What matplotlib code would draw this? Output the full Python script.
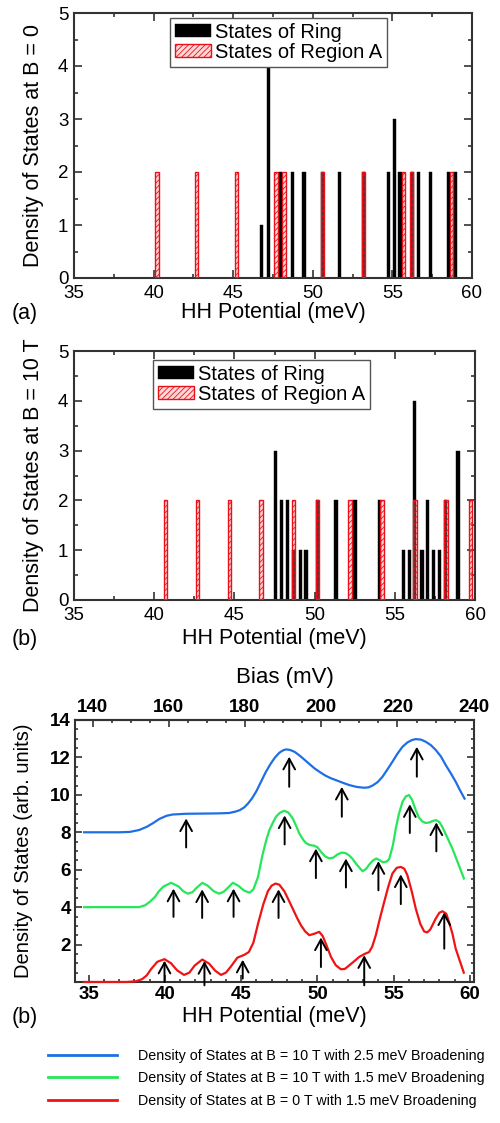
import matplotlib
matplotlib.use('Agg')
import matplotlib.pyplot as plt
from matplotlib.ticker import MultipleLocator
from matplotlib import font_manager

# ---------------- data ----------------
# Panel (a): B = 0
ring_b0_x = [46.8, 47.2, 47.95, 48.7, 49.45, 50.62, 51.7, 53.2, 54.74, 55.12,
             55.48, 56.25, 56.63, 57.4, 58.5, 58.93]
ring_b0_h = [1, 4, 2, 2, 2, 2, 2, 2, 2, 3, 2, 2, 2, 2, 2, 2]
regA_b0_x = [40.2, 42.7, 45.2, 47.68, 48.18, 50.62, 53.2, 55.7, 56.2, 58.7]
regA_b0_h = [2, 2, 2, 2, 2, 2, 2, 2, 2, 2]

# Panel (b): B = 10 T
ring_b10_x = [47.56, 47.95, 48.33, 48.68, 49.1, 49.47, 50.19, 51.34, 52.52, 54.03,
              55.52, 55.9, 56.25, 56.69, 57.03, 57.4, 57.78, 58.18, 58.94]
ring_b10_h = [3, 2, 2, 1, 1, 1, 2, 2, 2, 2, 1, 1, 4, 1, 2, 1, 1, 2, 3]
regA_b10_x = [40.7, 42.7, 44.7, 46.67, 48.68, 50.19, 52.2, 54.2, 56.25, 58.18, 59.73]
regA_b10_h = [2, 2, 2, 2, 2, 2, 2, 2, 2, 2, 2]

hh_ticks = [35, 40, 45, 50, 55, 60]
count_ticks = [0, 1, 2, 3, 4, 5]

# Panel (c): broadened density of states
hh_blue = [34.7, 36.0, 37.0, 37.7, 38.3, 38.8, 39.2, 39.65, 40.1, 40.5, 41.4, 42.5,
           43.5, 44.2, 44.6, 44.9, 45.2, 45.45, 45.7, 46.0, 46.3, 46.6, 46.9, 47.2,
           47.5, 47.75, 47.95, 48.2, 48.5, 48.8, 49.05, 49.4, 49.8, 50.12, 50.5,
           50.85, 51.2, 51.65, 52.1, 52.6, 53.07, 53.35, 53.6, 53.95, 54.27, 54.6,
           54.92, 55.25, 55.58, 55.9, 56.2, 56.45, 56.8, 57.1, 57.45, 57.76, 58.1,
           58.41, 58.75, 59.07, 59.35, 59.65]
dos_blue = [8.0, 8.0, 8.0, 8.02, 8.12, 8.29, 8.48, 8.72, 8.88, 8.95, 8.99, 9.0,
            9.01, 9.03, 9.1, 9.18, 9.33, 9.54, 9.8, 10.2, 10.7, 11.2, 11.62, 11.98,
            12.25, 12.38, 12.43, 12.4, 12.3, 12.12, 11.95, 11.7, 11.42, 11.24, 11.04,
            10.9, 10.79, 10.65, 10.52, 10.42, 10.38, 10.4, 10.49, 10.68, 10.97, 11.37,
            11.77, 12.2, 12.57, 12.8, 12.93, 12.98, 12.95, 12.84, 12.65, 12.4, 12.05,
            11.6, 11.15, 10.7, 10.25, 9.8]

hh_green = [34.7, 36.5, 38.3, 38.7, 39.0, 39.35, 39.6, 39.9, 40.4, 40.9, 41.2, 41.5,
            41.8, 42.1, 42.45, 42.8, 43.2, 43.55, 43.85, 44.15, 44.45, 44.8, 45.2,
            45.55, 45.8, 46.1, 46.4, 46.65, 46.85, 47.1, 47.3, 47.55, 47.83, 48.1,
            48.38, 48.6, 48.81, 49.05, 49.25, 49.5, 49.8, 50.0, 50.23, 50.5, 50.78,
            51.05, 51.32, 51.6, 51.87, 52.1, 52.3, 52.6, 52.96, 53.2, 53.4, 53.65,
            53.87, 54.1, 54.3, 54.5, 54.7, 54.95, 55.14, 55.35, 55.58, 55.8, 56.01,
            56.2, 56.45, 56.65, 56.88, 57.1, 57.32, 57.55, 57.76, 58.0, 58.19, 58.5,
            58.85, 59.2, 59.61]
dos_green = [4.0, 4.0, 4.0, 4.1, 4.28, 4.55, 4.85, 5.1, 5.3, 5.1, 4.85, 4.72,
             4.8, 5.05, 5.3, 5.15, 4.85, 4.72, 4.82, 5.05, 5.3, 5.15, 4.88,
             4.77, 4.95, 5.6, 6.8, 7.6, 8.12, 8.55, 8.85, 9.05, 9.15, 9.05,
             8.74, 8.35, 7.94, 7.62, 7.42, 7.32, 7.28, 7.2, 6.96, 6.72, 6.6,
             6.65, 6.82, 6.92, 6.88, 6.75, 6.58, 6.25, 5.92, 6.05, 6.28, 6.5,
             6.6, 6.5, 6.4, 6.42, 6.55, 7.3, 8.2, 9.0, 9.63, 9.92, 9.99,
             9.75, 9.18, 8.8, 8.58, 8.5, 8.52, 8.6, 8.65, 8.55, 8.29, 7.75,
             7.13, 6.4, 5.53]

hh_red = [34.7, 36.0, 37.5, 38.1, 38.5, 38.8, 39.1, 39.5, 39.97, 40.4, 40.8, 41.25,
          41.6, 41.95, 42.45, 42.9, 43.3, 43.68, 44.0, 44.3, 44.75, 45.2, 45.5, 45.8,
          46.1, 46.45, 46.75, 47.0, 47.25, 47.5, 47.83, 48.1, 48.38, 48.65, 48.92,
          49.2, 49.47, 49.8, 50.12, 50.35, 50.6, 50.89, 51.2, 51.54, 51.8, 52.09,
          52.4, 52.74, 53.1, 53.39, 53.6, 53.83, 54.1, 54.38, 54.65, 54.92, 55.2,
          55.47, 55.7, 55.9, 56.2, 56.45, 56.75, 57.0, 57.2, 57.4, 57.76, 58.0, 58.2,
          58.45, 58.63, 58.85, 59.07, 59.35, 59.6]
dos_red = [0.0, 0.0, 0.0, 0.04, 0.15, 0.35, 0.7, 1.08, 1.22, 1.0, 0.62, 0.38,
           0.5, 0.88, 1.2, 0.98, 0.6, 0.38, 0.5, 0.8, 1.3, 1.45, 1.6, 2.1,
           3.1, 4.15, 4.85, 5.15, 5.26, 5.2, 4.85, 4.4, 3.92, 3.45, 3.03,
           2.7, 2.5, 2.58, 2.68, 2.45, 1.95, 1.34, 0.9, 0.68, 0.7, 0.89,
           1.1, 1.34, 1.5, 1.6, 1.9, 2.5, 3.4, 4.28, 5.1, 5.8, 6.1,
           6.15, 6.05, 5.71, 4.8, 3.92, 3.1, 2.7, 2.65, 2.8, 3.39, 3.7, 3.78,
           3.65, 3.21, 2.6, 1.78, 1.1, 0.5]

# arrows marking the peaks: position, tip value, tail value
arrow_blue_x = [41.39, 48.15, 51.6, 56.52]
arrow_blue_tip = [8.74, 12.04, 10.43, 12.57]
arrow_blue_tail = [7.19, 10.43, 8.83, 10.97]
arrow_green_x = [40.56, 42.44, 44.5, 47.85, 49.9, 51.87, 54.0, 56.06, 57.8]
arrow_green_tip = [4.99, 4.95, 4.99, 8.9, 7.13, 6.6, 6.46, 9.5, 8.53]
arrow_green_tail = [3.48, 3.42, 3.48, 7.35, 5.55, 5.05, 4.9, 7.96, 6.98]
arrow_red_x = [39.97, 42.59, 45.1, 47.45, 50.23, 53.07, 55.47, 58.32]
arrow_red_tip = [1.14, 1.12, 1.19, 4.95, 2.38, 1.43, 5.75, 3.72]
arrow_red_tail = [0.0, -0.18, 0.18, 3.42, 0.8, -0.18, 4.16, 1.78]

dos_ticks = [2, 4, 6, 8, 10, 12, 14]
bias_ticks = [140, 160, 180, 200, 220, 240]
BIAS_PER_MEV = 4.0
BIAS_OFFSET = -1.0

legend_labels = ['Density of States at B = 10 T with 2.5 meV Broadening',
                 'Density of States at B = 10 T with 1.5 meV Broadening',
                 'Density of States at B = 0 T with 1.5 meV Broadening']

# ---------------- style ----------------
plt.rcParams['font.family'] = ['Liberation Sans', 'DejaVu Sans']
plt.rcParams['hatch.linewidth'] = 0.6
names = {f.name for f in font_manager.fontManager.ttflist}
NARROW = 'Liberation Sans Narrow' in names

W, H = 500, 1123
fig = plt.figure(figsize=(W / 100, H / 100), dpi=100)

SPINE = '#333333'
RED_FACE = (1.0, 0.55, 0.55, 0.35)


def px_box(left, right, top, bottom):
    return [left / W, 1 - bottom / H, (right - left) / W, (bottom - top) / H]


def style_bar_axes(ax):
    ax.set_xlim(35, 60)
    ax.set_ylim(0, 5)
    ax.set_xticks(hh_ticks)
    ax.set_yticks(count_ticks)
    ax.xaxis.set_minor_locator(MultipleLocator(2.5))
    ax.yaxis.set_minor_locator(MultipleLocator(0.5))
    ax.tick_params(which='both', direction='in', top=True, right=True,
                   labelsize=13.5, color=SPINE, width=1.2)
    ax.tick_params(which='major', length=5.5)
    ax.tick_params(axis='x', which='major', pad=5)
    ax.tick_params(axis='y', which='major', pad=4)
    ax.tick_params(which='minor', length=3)
    for s in ax.spines.values():
        s.set_color(SPINE)
        s.set_linewidth(1.5)


def bar_panel(box, rx, rh, ax_x, ax_h, ylab, letter, letter_y, xlab_y, leg_anchor):
    ax = fig.add_axes(box)
    b1 = ax.bar(rx, rh, width=0.2, color='black', edgecolor='black', linewidth=0.3,
                zorder=2)
    b2 = ax.bar(ax_x, ax_h, width=0.22, facecolor=RED_FACE, edgecolor='#e8101a',
                hatch='//////', linewidth=1.0, zorder=3)
    style_bar_axes(ax)
    ax.set_ylabel(ylab, fontsize=15.5, labelpad=0)
    ax.yaxis.set_label_coords(-0.075, 0.5)
    ax.set_xlabel('HH Potential (meV)', fontsize=15.5)
    ax.xaxis.set_label_coords(0.5, xlab_y)
    fig.text(25 / W, 1 - letter_y / H, letter, fontsize=15.5, ha='center', va='center')
    leg = ax.legend([b1, b2], ['States of Ring', 'States of Region A'],
                    loc='upper left', bbox_to_anchor=leg_anchor, fontsize=14.5,
                    handlelength=1.8, handleheight=0.62, handletextpad=0.2,
                    labelspacing=0.05, borderpad=0.25, borderaxespad=0,
                    fancybox=False, framealpha=1)
    leg.get_frame().set_edgecolor('#555555')
    leg.get_frame().set_linewidth(1.0)
    return ax


bar_panel(px_box(74, 472, 13, 278), ring_b0_x, ring_b0_h, regA_b0_x, regA_b0_h,
          'Density of States at B = 0', '(a)', 313, -0.09, (0.241, 0.982))
bar_panel(px_box(74, 475, 351, 600), ring_b10_x, ring_b10_h, regA_b10_x, regA_b10_h,
          'Density of States at B = 10 T', '(b)', 639, -0.112, (0.197, 0.964))

# ---------------- panel (c) ----------------
axc = fig.add_axes(px_box(75, 474, 720, 982))
lb, = axc.plot(hh_blue, dos_blue, color='#1e6fe6', lw=1.6, zorder=3)
lg, = axc.plot(hh_green, dos_green, color='#26e65a', lw=1.6, zorder=3)
lr, = axc.plot(hh_red, dos_red, color='#ee1414', lw=1.6, zorder=3, clip_on=False)

for xs, tips, tails in [(arrow_blue_x, arrow_blue_tip, arrow_blue_tail),
                        (arrow_green_x, arrow_green_tip, arrow_green_tail),
                        (arrow_red_x, arrow_red_tip, arrow_red_tail)]:
    for x, t0, t1 in zip(xs, tips, tails):
        axc.annotate('', xy=(x, t0), xytext=(x, t1), annotation_clip=False,
                     arrowprops=dict(arrowstyle='->,head_length=0.55,head_width=0.3',
                                     lw=1.4, color='black', shrinkA=0, shrinkB=0,
                                     mutation_scale=14), zorder=4)

axc.set_xlim(34.1, 60.27)
axc.set_ylim(0, 14)
axc.set_xticks(hh_ticks)
axc.set_yticks(dos_ticks)
axc.xaxis.set_minor_locator(MultipleLocator(1))
axc.yaxis.set_minor_locator(MultipleLocator(0.5))
axc.tick_params(which='both', direction='in', top=False, right=True,
                color=SPINE, width=1.2)
axc.tick_params(which='major', length=5, pad=3)
axc.tick_params(which='minor', length=2.5)
for lab in axc.get_xticklabels() + axc.get_yticklabels():
    lab.set_fontweight('bold')
    lab.set_fontsize(13.5)
for s in axc.spines.values():
    s.set_color(SPINE)
    s.set_linewidth(1.5)

secax = axc.secondary_xaxis('top',
                            functions=(lambda h: BIAS_PER_MEV * h + BIAS_OFFSET,
                                       lambda b: (b - BIAS_OFFSET) / BIAS_PER_MEV))
secax.set_xticks(bias_ticks)
secax.xaxis.set_minor_locator(MultipleLocator(5))
secax.tick_params(which='both', direction='in', color=SPINE, width=1.2, pad=3)
secax.tick_params(which='major', length=5)
secax.tick_params(which='minor', length=2.5)
for lab in secax.get_xticklabels():
    lab.set_fontweight('bold')
    lab.set_fontsize(13.5)
secax.spines['top'].set_linewidth(1.5)
secax.spines['top'].set_color(SPINE)

axc.set_ylabel('Density of States (arb. units)', fontsize=14.5)
axc.yaxis.set_label_coords(-0.105, 0.5)
axc.set_xlabel('HH Potential (meV)', fontsize=15.5)
axc.xaxis.set_label_coords(0.5, -0.092)
fig.text(285 / W, 1 - 677 / H, 'Bias (mV)', fontsize=16, ha='center', va='center')
fig.text(25 / W, 1 - 1017 / H, '(b)', fontsize=15.5, ha='center', va='center')

# ---------------- bottom legend ----------------
if NARROW:
    leg_family = ['Liberation Sans Narrow', 'Liberation Sans']
    leg_fs = 12.6
else:
    leg_family = ['Liberation Sans', 'DejaVu Sans']
    leg_fs = 10.3
fpx = leg_fs * 100 / 72
leg = fig.legend([lb, lg, lr], legend_labels, loc='upper left',
                 bbox_to_anchor=(48 / W, 1 - (1058 - 0.62 * fpx) / H),
                 frameon=False, borderpad=0, borderaxespad=0,
                 handlelength=69 / fpx, handletextpad=21 / fpx,
                 labelspacing=(25 - 1.17 * fpx) / fpx,
                 prop={'family': leg_family, 'size': leg_fs})
for h in leg.get_lines():
    h.set_linewidth(2.0)

fig.savefig('out.png', dpi=100)
